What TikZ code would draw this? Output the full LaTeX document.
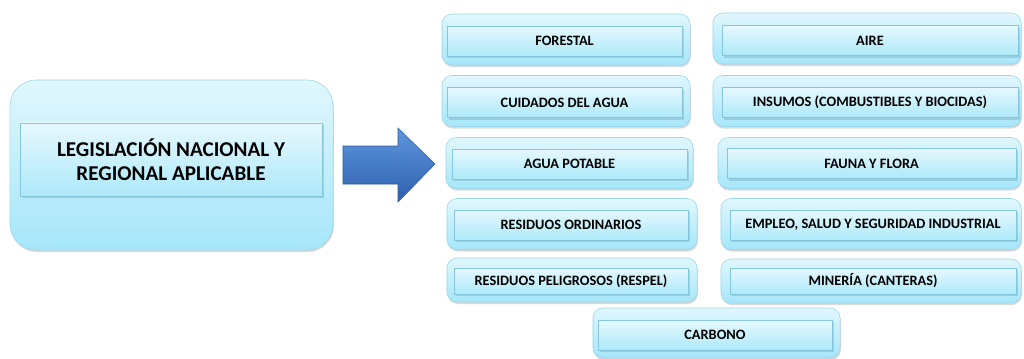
\documentclass[tikz,border=0pt]{standalone}
\usepackage{fontspec}
\setmainfont{Carlito}
\usetikzlibrary{positioning,shadows}

\definecolor{boxtop}{HTML}{E0F7FD}
\definecolor{boxbottom}{HTML}{A6E6FA}
\definecolor{boxline}{HTML}{9AD6E9}
\definecolor{bartop}{HTML}{E6F8FE}
\definecolor{barbottom}{HTML}{ADE9FA}
\definecolor{barline}{HTML}{84C7DC}
\definecolor{arrowtop}{HTML}{5E97DE}
\definecolor{arrowbottom}{HTML}{2E60AD}
\definecolor{arrowline}{HTML}{2C5C9C}

\begin{document}
\begin{tikzpicture}[
    x=0.025cm, y=-0.025cm,
    outerbox/.style={rectangle, rounded corners=0.25cm, draw=boxline, thin,
        top color=boxtop, bottom color=boxbottom, minimum height=1.275cm,
        drop shadow={shadow xshift=0.2mm, shadow yshift=-0.5mm, fill=black, opacity=.15}},
    innerbox/.style={rectangle, draw=barline, thin, top color=bartop, bottom color=barbottom,
        minimum height=0.75cm, inner sep=1pt, font=\bfseries\fontsize{10.2}{12}\selectfont,
        drop shadow={shadow xshift=0.4mm, shadow yshift=-0.5mm, fill=barline!80!black, opacity=.35}},
    ]
\useasboundingbox (0,0) rectangle (1024,358);

%Main box
\node[outerbox, rounded corners=0.65cm, minimum width=8.075cm, minimum height=4.25cm] (mainO) at (171.5,165) {};
\node[innerbox, minimum width=7.55cm, minimum height=1.825cm, align=center,
      font=\bfseries\fontsize{15}{17}\selectfont] (main) at (171,159.5) {LEGISLACIÓN NACIONAL Y\\REGIONAL APLICABLE};

%Arrow
\coordinate (aw) at (343,146);
\coordinate (tip) at (435,164);
\shade[top color=arrowtop, bottom color=arrowbottom, draw=arrowline, thin]
    (aw) -- (398,146) -- (398,128) -- (tip) -- (398,202) -- (398,184) -- (343,184) -- cycle;

%Outer boxes
\node[outerbox, minimum width=6.2cm]   (forestalO) at (566,39.5) {};
\node[outerbox, minimum width=6.2cm]   (cuidadosO) at (566,101) {};
\node[outerbox, minimum width=6.175cm] (potableO)  at (569.5,163) {};
\node[outerbox, minimum width=6.25cm]  (ordinariosO) at (572,224) {};
\node[outerbox, minimum width=6.25cm, minimum height=1.1cm] (respelO) at (572,280) {};
\node[outerbox, minimum width=6.175cm, minimum height=1.25cm] (carbonoO) at (716.5,333) {};
\node[outerbox, minimum width=7.7cm]   (aireO)     at (867,38.5) {};
\node[outerbox, minimum width=7.7cm]   (insumosO)  at (867,101) {};
\node[outerbox, minimum width=7.575cm] (faunaO)    at (869.5,163) {};
\node[outerbox, minimum width=7.5cm]   (empleoO)   at (871,224) {};
\node[outerbox, minimum width=7.5cm, minimum height=1.1cm] (mineriaO) at (871,281) {};

%Inner bars
\node[innerbox, minimum width=5.875cm] (forestal)   at (564.5,41) {FORESTAL};
\node[innerbox, minimum width=5.875cm] (cuidados)   at (564.5,102.5) {CUIDADOS DEL AGUA};
\node[innerbox, minimum width=5.875cm] (potable)    at (569.5,164) {AGUA POTABLE};
\node[innerbox, minimum width=5.85cm]  (ordinarios) at (571,225) {RESIDUOS ORDINARIOS};
\node[innerbox, minimum width=5.85cm, minimum height=0.65cm] (respel) at (571,281) {RESIDUOS PELIGROSOS (RESPEL)};
\node[innerbox, minimum width=5.85cm]  (carbono)    at (715,335) {CARBONO};
\node[innerbox, minimum width=7.4cm]   (aire)       at (870,40.5) {AIRE};
\node[innerbox, minimum width=7.4cm]   (insumos)    at (870,102.5) {INSUMOS (COMBUSTIBLES Y BIOCIDAS)};
\node[innerbox, minimum width=7.225cm] (fauna)      at (871.5,163.5) {FAUNA Y FLORA};
\node[innerbox, minimum width=7.15cm]  (empleo)     at (873,225) {EMPLEO, SALUD Y SEGURIDAD INDUSTRIAL};
\node[innerbox, minimum width=7.15cm, minimum height=0.65cm] (mineria) at (873,281) {MINERÍA (CANTERAS)};
\end{tikzpicture}
\end{document}
